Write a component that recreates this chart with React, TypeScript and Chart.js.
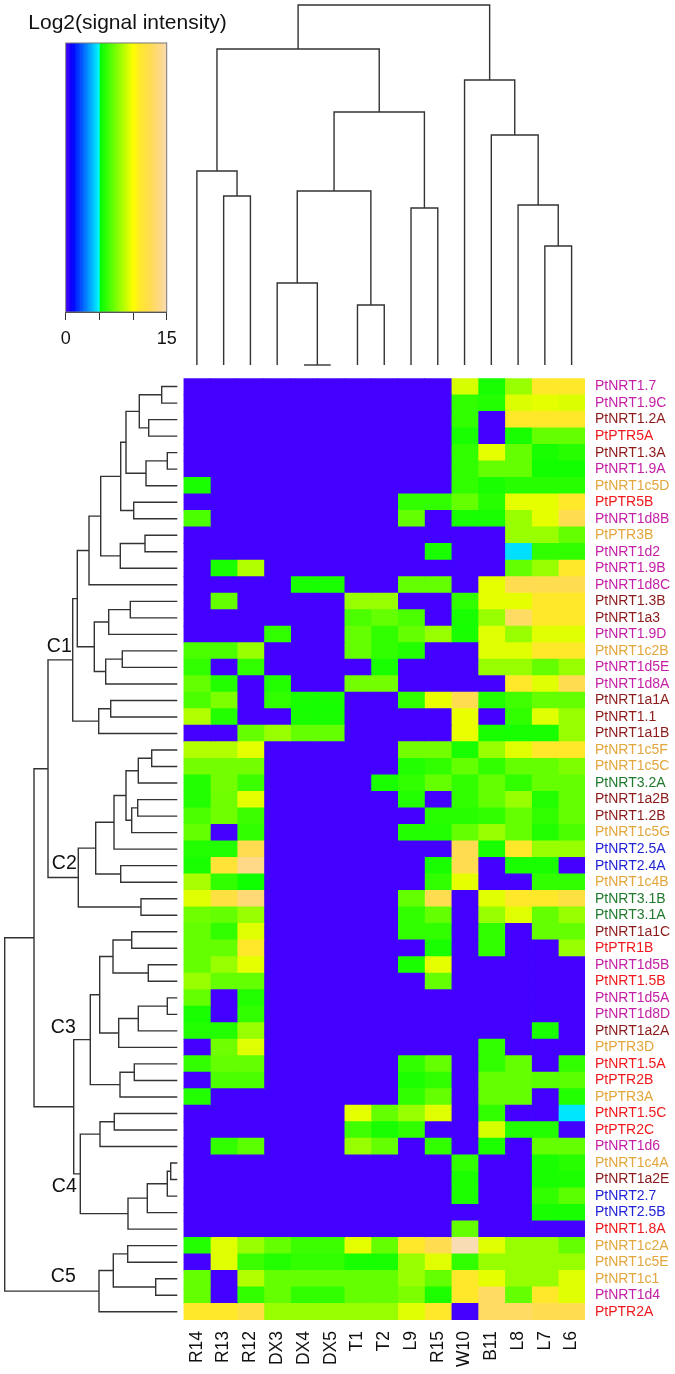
import React, { useEffect, useRef } from "react";
import { Chart, registerables } from "chart.js";

Chart.register(...registerables);

const FONT = "'Liberation Sans', Arial, sans-serif";

const samples = ["R14","R13","R12","DX3","DX4","DX5","T1","T2","L9","R15","W10","B11","L8","L7","L6"];

const genes = ["PtNRT1.7","PtNRT1.9C","PtNRT1.2A","PtPTR5A","PtNRT1.3A","PtNRT1.9A","PtNRT1c5D","PtPTR5B","PtNRT1d8B","PtPTR3B","PtNRT1d2","PtNRT1.9B","PtNRT1d8C","PtNRT1.3B","PtNRT1a3","PtNRT1.9D","PtNRT1c2B","PtNRT1d5E","PtNRT1d8A","PtNRT1a1A","PtNRT1.1","PtNRT1a1B","PtNRT1c5F","PtNRT1c5C","PtNRT3.2A","PtNRT1a2B","PtNRT1.2B","PtNRT1c5G","PtNRT2.5A","PtNRT2.4A","PtNRT1c4B","PtNRT3.1B","PtNRT3.1A","PtNRT1a1C","PtPTR1B","PtNRT1d5B","PtNRT1.5B","PtNRT1d5A","PtNRT1d8D","PtNRT1a2A","PtPTR3D","PtNRT1.5A","PtPTR2B","PtPTR3A","PtNRT1.5C","PtPTR2C","PtNRT1d6","PtNRT1c4A","PtNRT1a2E","PtNRT2.7","PtNRT2.5B","PtNRT1.8A","PtNRT1c2A","PtNRT1c5E","PtNRT1c1","PtNRT1d4","PtPTR2A"];

const geneGroups = "MMDRDMORMOMMMDDMOMMDDDOOGDDOBBOGGDRMRMMDORRORRMODBBROOOMR";

const groupColors: Record<string, string> = {
  M: "#c41fa6", D: "#8c1a1a", R: "#f0181c", O: "#e3a63c", G: "#1f7a2c", B: "#2222d6",
};

const heat = [
  [0,0,0,0,0,0,0,0,0,0,9.2,5.5,8,11,11],
  [0,0,0,0,0,0,0,0,0,0,6,5.7,9.3,9.5,9.3],
  [0,0,0,0,0,0,0,0,0,0,6,0,11,11,11],
  [0,0,0,0,0,0,0,0,0,0,5.5,0,5.5,7,7],
  [0,0,0,0,0,0,0,0,0,0,6,9.5,7,5.5,5.8],
  [0,0,0,0,0,0,0,0,0,0,6,7,7,5.4,5.4],
  [5.5,0,0,0,0,0,0,0,0,0,6,5.5,5.8,5.8,5.8],
  [0,0,0,0,0,0,0,0,6,6,7,5.8,9.5,9.5,11],
  [6.5,0,0,0,0,0,0,0,7,0,5.5,5.5,8,9.5,12.5],
  [0,0,0,0,0,0,0,0,0,0,0,0,8,8,7],
  [0,0,0,0,0,0,0,0,0,5.5,0,0,4.5,6,6],
  [0,5.5,8.5,0,0,0,0,0,0,0,0,0,7,8,11],
  [0,0,0,0,5.5,5.5,0,0,7,7,0,9.5,12.5,12.5,12.5],
  [0,7,0,0,0,0,8,8,0,0,6,9.5,9.5,11,11],
  [0,0,0,0,0,0,6.5,7,6.5,0,5.5,8,13,11,11],
  [0,0,0,6,0,0,7,6,7,8,5.5,9.4,8,9.4,9.4],
  [6.5,6.5,8,0,0,0,7,6,5.7,0,0,9.4,9.4,11,11],
  [6,0,6,0,0,0,0,5.5,0,0,0,8,8,7,8],
  [7,5.7,0,5.7,0,0,7.3,7.3,0,0,0,0,11,9.4,12.5],
  [6.5,7.5,0,6,5.5,5.5,0,0,6,9.6,12.5,5.7,6.3,7,7],
  [8.5,5.7,0,0,5.5,5.5,0,0,0,0,9.6,0,6,9.4,8],
  [0,0,7,8,7,7,0,0,0,0,9.6,5.5,5.5,5.5,8],
  [8.5,8.5,9.5,0,0,0,0,0,7.3,7.3,5.5,8,9.4,11,11],
  [7.3,7.3,7.3,0,0,0,0,0,5.7,6,7,6,7,7,7.5],
  [5.7,7.3,6.2,0,0,0,0,5.5,6,7,6,7,6,7,7],
  [5.7,7.2,9.5,0,0,0,0,0,5.7,0,6,7,8,5.7,7],
  [6.5,7.2,6.2,0,0,0,0,0,0,5.8,5.8,6,7,6,7],
  [7,0,6,0,0,0,0,0,5.7,5.7,7,8,7,5.7,6.5],
  [5.7,5.7,12.5,0,0,0,0,0,0,0,12.5,5.5,11,8,8],
  [5.5,11.5,14,0,0,0,0,0,0,5.5,12.5,0,5.5,5.5,0],
  [8.3,6,5.3,0,0,0,0,0,0,6,9.5,0,0,6,6],
  [9.4,12,13.5,0,0,0,0,0,7,12.5,0,9.4,11,11,12],
  [7.2,7,8,0,0,0,0,0,6,7,0,8,9.4,7,8],
  [7,6,9.4,0,0,0,0,0,6,6,0,6,0,7,7],
  [7,7,11,0,0,0,0,0,0,5.5,0,6,0,0,8],
  [7,8,9.5,0,0,0,0,0,5.5,9.5,0,0,0,0,0],
  [8,7,7,0,0,0,0,0,0,7,0,0,0,0,0],
  [7,0,5.7,0,0,0,0,0,0,0,0,0,0,0,0],
  [5.5,0,6,0,0,0,0,0,0,0,0,0,0,0,0],
  [5.7,5.7,8,0,0,0,0,0,0,0,0,0,0,5.5,0],
  [0,7.2,9.4,0,0,0,0,0,0,0,0,6,0,0,0],
  [6,7,7,0,0,0,0,0,6,7,0,6,7,0,6],
  [0,6.5,6.5,0,0,0,0,0,5.6,6,0,7,7,6.8,6.8],
  [5.7,0,0,0,0,0,0,0,6,7,0,7,7,0,5.7],
  [0,0,0,0,0,0,9.5,7,8,9.4,0,6,0,0,4.6],
  [0,0,0,0,0,0,6.3,5.5,6,0,0,9.2,5.7,5.7,0],
  [0,6,6.8,0,0,0,8,7,0,6,0,5.6,0,7,7],
  [0,0,0,0,0,0,0,0,0,0,6,0,0,5.5,5.8],
  [0,0,0,0,0,0,0,0,0,0,5.6,0,0,5.5,5.6],
  [0,0,0,0,0,0,0,0,0,0,5.6,0,0,6,6.8],
  [0,0,0,0,0,0,0,0,0,0,0,0,0,5.5,5.5],
  [0,0,0,0,0,0,0,0,0,0,7,0,0,0,0],
  [5.7,9.4,8,7,6.2,6.2,9.5,7,11,12.5,15,9.4,8,8,7],
  [0,9.4,6.2,5.7,6,6,5.5,5.5,8,9.4,6,8,8,8,8],
  [7,0,8.5,7,7,7,7,7,8,7,11,9.5,8,8,9.4],
  [7,0,6,7,6,6,7,7,7.5,5.6,11,13,7,11,9.4],
  [11,11,12,8,8,8,8,8,9.4,11,0,13,13,12.5,12.5],
];

const paletteValues = [0, 1, 3, 5, 5.05, 10, 11, 12.5, 14, 15];
const paletteColors = ["#4400ff", "#0000ff", "#0080ff", "#00ffff", "#00ff00", "#ffff00", "#ffe82a", "#ffdc50", "#ffd888", "#f8dcb4"];

// Dendrograms: [merge height, left child, right child]; a bare number is a leaf index.
const sampleTree: any = [360,[316,[194,0,[169,1,2]],[253,[174,[82,3,[0,4,5]],[60,6,7]],[157,8,9]]],[285,10,[230,11,[160,12,[119,13,14]]]]];

const clusterC1: any = [104.6,[100,[88.3,[76.6,[56.6,[51.3,[38,[15.6,0,1],[28.6,2,3]],[31.3,[10,4,5],6]],[43.6,7,8]],[57,[32.3,9,10],11]],12],[83,[68.6,[47,13,14],15],[71.6,[55,16,17],18]]],[78.6,[66.6,19,20],21]];
const clusterC2: any = [99,[81.6,[63.3,[51.3,[39,[25.6,22,23],24],[45.6,[39.6,25,26],27]],28],[56.6,29,30]],[36.3,31,32]];
const clusterC3: any = [87,[77.6,[64.3,[45.6,33,34],[29,35,36]],[58.6,[39,[10,37,38],39],40]],[57.3,[43,41,42],43]];
const clusterC4: any = [97,[77.3,[63,44,45],46],[49.3,[30,[10,[6.6,47,48],49],50],51]];
const clusterC5: any = [78.3,[64,[49.6,52,53],[21.6,54,55]],56];
const geneTree: any = [172.6,[143.3,[129.3,clusterC1,clusterC2],[103.6,clusterC3,clusterC4]],clusterC5];

const clusterLabels = ["C1", "C2", "C3", "C4", "C5"];
const clusterLabelHeights = [118, 113, 114, 113, 114];
const clusterLabelRows = [16.25, 29.4, 39.3, 48.9, 54.4];

const legendTicks = [0, 15];
const legendTitle = "Log2(signal intensity)";

function hexRgb(h: string) {
  return [1, 3, 5].map((i) => parseInt(h.slice(i, i + 2), 16));
}
function colorAt(v: number) {
  let k = 0;
  while (k < paletteValues.length - 2 && v > paletteValues[k + 1]) k++;
  const t = Math.min(1, Math.max(0, (v - paletteValues[k]) / (paletteValues[k + 1] - paletteValues[k])));
  const a = hexRgb(paletteColors[k]);
  const b = hexRgb(paletteColors[k + 1]);
  const c = a.map((x, i) => Math.round(x + (b[i] - x) * t));
  return `rgb(${c[0]},${c[1]},${c[2]})`;
}

function treeSegments(tree: any) {
  const out: number[][][] = [];
  const walk = (n: any): { pos: number; h: number } => {
    if (typeof n === "number") return { pos: n + 0.5, h: 0 };
    const a = walk(n[1]);
    const b = walk(n[2]);
    out.push([[a.h, a.pos], [n[0], a.pos], [n[0], b.pos], [b.h, b.pos]]);
    return { pos: (a.pos + b.pos) / 2, h: n[0] };
  };
  walk(tree);
  return out;
}

const lineStyle = {
  showLine: true, pointRadius: 0, borderColor: "#333333", borderWidth: 1.4, clip: false as any, tension: 0,
};
const quiet = { legend: { display: false }, tooltip: { enabled: false }, title: { display: false } };

const abs = (left: number, top: number): React.CSSProperties => ({ position: "absolute", left, top, display: "block" });

const noPadding = (axis: any) => {
  axis.paddingLeft = 0;
  axis.paddingRight = 0;
  axis.paddingTop = 0;
  axis.paddingBottom = 0;
};

export default function App() {
  const heatRef = useRef<HTMLCanvasElement>(null);
  const topRef = useRef<HTMLCanvasElement>(null);
  const leftRef = useRef<HTMLCanvasElement>(null);
  const barRef = useRef<HTMLCanvasElement>(null);

  useEffect(() => {
    const heatChart = new Chart(heatRef.current!, {
      type: "bar",
      data: {
        labels: genes,
        datasets: samples.map((s, j) => ({
          label: s,
          data: genes.map(() => 1),
          backgroundColor: genes.map((_, i) => colorAt(heat[i][j])),
          borderWidth: 0,
          inflateAmount: 0.4,
          barPercentage: 1,
          categoryPercentage: 1,
        })),
      },
      options: {
        indexAxis: "y",
        animation: false,
        responsive: false,
        layout: { padding: { left: 0.5, top: 0.3, right: 0, bottom: 0 }, autoPadding: false },
        plugins: quiet,
        scales: {
          x: {
            stacked: true,
            min: 0,
            max: 15,
            grid: { display: false, drawTicks: false },
            border: { display: false },
            afterBuildTicks: (axis: any) => {
              axis.ticks = samples.map((_, i) => ({ value: i + 0.5 }));
            },
            afterFit: (axis: any) => { axis.height = 54; noPadding(axis); },
            ticks: {
              autoSkip: false, maxRotation: 90, minRotation: 90, padding: 11,
              color: "#111", font: { family: FONT, size: 17.5 },
              callback: (_: any, i: number) => samples[i],
            },
          },
          y: {
            stacked: true,
            position: "right",
            grid: { display: false, drawTicks: false },
            border: { display: false },
            afterFit: (axis: any) => { axis.width = 90; noPadding(axis); },
            ticks: {
              autoSkip: false, padding: 10, font: { family: FONT, size: 14 },
              color: (c: any) => groupColors[geneGroups[c.index]],
            },
          },
        },
      } as any,
    });

    const topChart = new Chart(topRef.current!, {
      type: "scatter",
      data: {
        datasets: treeSegments(sampleTree).map((seg) => ({
          ...lineStyle,
          data: seg.map(([h, pos]) => ({ x: pos, y: h })),
        })),
      },
      options: {
        animation: false,
        responsive: false,
        layout: { padding: { left: 0.5, top: 5, right: 0, bottom: 5 } },
        plugins: quiet,
        scales: {
          x: { type: "linear", min: 0, max: 15, display: false },
          y: { type: "linear", min: 0, max: 360, display: false },
        },
      } as any,
    });

    const leftChart = new Chart(leftRef.current!, {
      type: "scatter",
      data: {
        datasets: treeSegments(geneTree).map((seg) => ({
          ...lineStyle,
          data: seg.map(([h, pos]) => ({ x: h, y: pos })),
        })),
      },
      options: {
        animation: false,
        responsive: false,
        layout: { padding: { left: 0, top: 0.3, right: 5.7, bottom: 0 } },
        plugins: quiet,
        scales: {
          x: { type: "linear", min: 0, max: 177.3, reverse: true, display: false },
          y: { type: "linear", min: 0, max: genes.length, reverse: true, display: false },
        },
      } as any,
      plugins: [{
        id: "clusterText",
        afterDatasetsDraw(chart: any) {
          const { ctx, scales } = chart;
          ctx.save();
          ctx.font = `19.5px ${FONT}`;
          ctx.fillStyle = "#111";
          ctx.textAlign = "center";
          ctx.textBaseline = "middle";
          clusterLabels.forEach((t, i) => {
            ctx.fillText(t, scales.x.getPixelForValue(clusterLabelHeights[i]), scales.y.getPixelForValue(clusterLabelRows[i]));
          });
          ctx.restore();
        },
      }],
    });

    const steps = Array.from({ length: 75 }, (_, i) => i * 0.2);
    const barChart = new Chart(barRef.current!, {
      type: "bar",
      data: {
        labels: ["scale"],
        datasets: steps.map((v) => ({
          data: [0.2],
          backgroundColor: colorAt(v + 0.1),
          borderWidth: 0,
          inflateAmount: 0.3,
          barPercentage: 1,
          categoryPercentage: 1,
        })),
      },
      options: {
        indexAxis: "y",
        animation: false,
        responsive: false,
        layout: { padding: { left: 65.7, top: 43, right: 88.3, bottom: 0 }, autoPadding: false },
        plugins: quiet,
        scales: {
          x: {
            stacked: true,
            min: 0,
            max: 15,
            afterFit: (axis: any) => { axis.height = 48; noPadding(axis); },
            grid: { display: true, drawOnChartArea: false, tickLength: 8, color: "#333" },
            border: { display: true, color: "#333" },
            ticks: {
              stepSize: 5, autoSkip: false, maxRotation: 0, padding: 8,
              color: "#111", font: { family: FONT, size: 18 },
              callback: (v: number) => (legendTicks.includes(v) ? String(v) : ""),
            },
          },
          y: { stacked: true, display: false },
        },
      } as any,
      plugins: [{
        id: "legendFrame",
        afterDraw(chart: any) {
          const { ctx, chartArea: a } = chart;
          ctx.save();
          ctx.strokeStyle = "#777";
          ctx.lineWidth = 1;
          ctx.strokeRect(a.left, a.top, a.right - a.left, a.bottom - a.top);
          ctx.font = `21px ${FONT}`;
          ctx.fillStyle = "#111";
          ctx.textAlign = "center";
          ctx.textBaseline = "middle";
          ctx.fillText(legendTitle, 127.5, 23.7);
          ctx.restore();
        },
      }],
    });

    return () => {
      heatChart.destroy();
      topChart.destroy();
      leftChart.destroy();
      barChart.destroy();
    };
  }, []);

  return (
    <div style={{ position: "absolute", left: 0, top: 0, width: 675, height: 1374, background: "#fff", overflow: "hidden" }}>
      <canvas ref={barRef} width={255} height={360} style={abs(0, 0)} />
      <canvas ref={topRef} width={402} height={370} style={abs(183, 0)} />
      <canvas ref={leftRef} width={183} height={942} style={abs(0, 378)} />
      <canvas ref={heatRef} width={492} height={996} style={abs(183, 378)} />
    </div>
  );
}
